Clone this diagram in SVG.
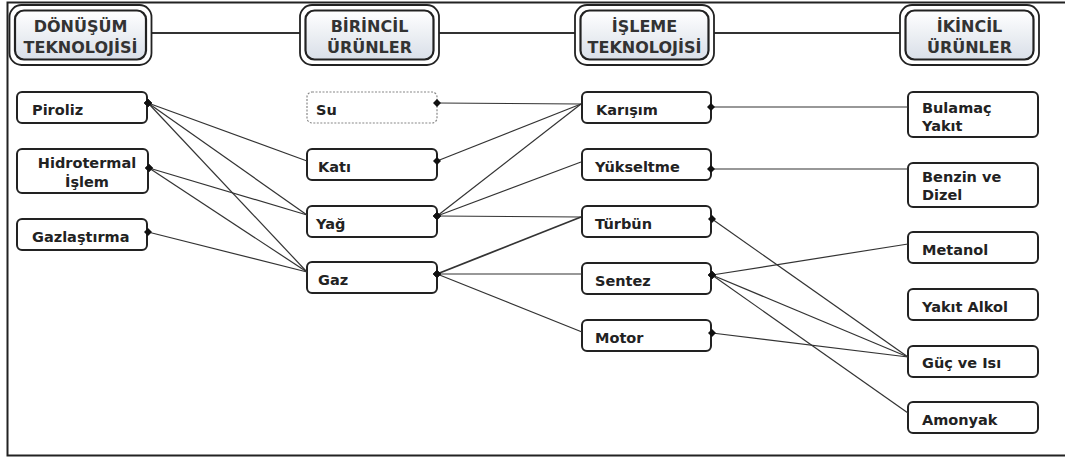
<svg xmlns="http://www.w3.org/2000/svg" width="1065" height="459" viewBox="0 0 1065 459">
<style>
text{font-family:"DejaVu Sans","Liberation Sans",sans-serif;font-weight:bold;fill:#222;font-size:14.5px}
.hd text{fill:#333;font-size:16px;text-anchor:middle}
.ho{fill:#fff;stroke:#222;stroke-width:1.8}
.hi{fill:url(#hg);stroke:#222;stroke-width:2.2}
.n rect{fill:#fff;stroke:#222;stroke-width:2}
.n rect.d{stroke:#888;stroke-width:1.2;stroke-dasharray:2 1.5}
.c path{fill:none;stroke:#333;stroke-width:1.2;marker-start:url(#dm)}
.hl{fill:none;stroke:#333;stroke-width:2}
</style>
<defs>
<linearGradient id="hg" x1="0" y1="0" x2="0" y2="1">
<stop offset="0" stop-color="#ffffff"/>
<stop offset="1" stop-color="#d9dfe8"/>
</linearGradient>
<marker id="dm" viewBox="-5 -5 10 10" markerWidth="10" markerHeight="10" refX="0" refY="0" markerUnits="userSpaceOnUse" orient="0">
<path d="M-4 0L0 -4L4 0L0 4Z" fill="#111"/>
</marker>
</defs>
<rect width="1065" height="459" fill="#fff"/>
<path d="M1070 2.5H7.5V455.5H1070" fill="none" stroke="#222" stroke-width="2"/>

<g id="header-lines">
<path class="hl" d="M150 33H300M438 33H575M714 33H900"/>
</g>

<g class="hd" id="h-donusum">
<rect class="ho" x="9.5" y="5" width="142" height="60" rx="12"/>
<rect class="hi" x="15" y="10.5" width="131" height="49" rx="9"/>
<text x="80.5" y="32">DÖNÜŞÜM</text>
<text x="80.5" y="53">TEKNOLOJİSİ</text>
</g>
<g class="hd" id="h-birincil">
<rect class="ho" x="300" y="5" width="139" height="60" rx="12"/>
<rect class="hi" x="305.5" y="10.5" width="128" height="49" rx="9"/>
<text x="369.5" y="32">BİRİNCİL</text>
<text x="369.5" y="53">ÜRÜNLER</text>
</g>
<g class="hd" id="h-isleme">
<rect class="ho" x="575" y="5" width="139" height="60" rx="12"/>
<rect class="hi" x="580.5" y="10.5" width="128" height="49" rx="9"/>
<text x="644.5" y="32">İŞLEME</text>
<text x="644.5" y="53">TEKNOLOJİSİ</text>
</g>
<g class="hd" id="h-ikincil">
<rect class="ho" x="900" y="5" width="139" height="60" rx="12"/>
<rect class="hi" x="905.5" y="10.5" width="128" height="49" rx="9"/>
<text x="969.5" y="32">İKİNCİL</text>
<text x="969.5" y="53">ÜRÜNLER</text>
</g>

<g class="n" id="piroliz"><rect x="17" y="92" width="130" height="31" rx="5"/><text x="32" y="115">Piroliz</text></g>
<g class="n" id="hidrotermal"><rect x="17" y="149" width="131" height="44" rx="5"/><text x="87" y="168" text-anchor="middle">Hidrotermal</text><text x="87" y="187" text-anchor="middle">İşlem</text></g>
<g class="n" id="gazlastirma"><rect x="17" y="219" width="130" height="31" rx="5"/><text x="32" y="242">Gazlaştırma</text></g>

<g class="n" id="su"><rect class="d" x="307" y="92" width="130" height="31" rx="5"/><text x="316" y="115">Su</text></g>
<g class="n" id="kati"><rect x="307" y="149" width="130" height="31" rx="5"/><text x="318" y="172">Katı</text></g>
<g class="n" id="yag"><rect x="307" y="206" width="130" height="31" rx="5"/><text x="316" y="229">Yağ</text></g>
<g class="n" id="gaz"><rect x="307" y="262" width="130" height="31" rx="5"/><text x="318" y="285">Gaz</text></g>

<g class="n" id="karisim"><rect x="582" y="92" width="129" height="31" rx="5"/><text x="596" y="115">Karışım</text></g>
<g class="n" id="yukseltme"><rect x="582" y="149" width="129" height="31" rx="5"/><text x="595" y="172">Yükseltme</text></g>
<g class="n" id="turbun"><rect x="582" y="206" width="129" height="31" rx="5"/><text x="595" y="229">Türbün</text></g>
<g class="n" id="sentez"><rect x="582" y="263" width="129" height="31" rx="5"/><text x="595" y="286">Sentez</text></g>
<g class="n" id="motor"><rect x="582" y="320" width="129" height="31" rx="5"/><text x="595" y="343">Motor</text></g>

<g class="n" id="bulamac"><rect x="908" y="92" width="130" height="45" rx="5"/><text x="922" y="113">Bulamaç</text><text x="922" y="131">Yakıt</text></g>
<g class="n" id="benzin"><rect x="908" y="163" width="130" height="44" rx="5"/><text x="922" y="182">Benzin ve</text><text x="922" y="200">Dizel</text></g>
<g class="n" id="metanol"><rect x="908" y="232" width="130" height="31" rx="5"/><text x="922" y="255">Metanol</text></g>
<g class="n" id="yakitalkol"><rect x="908" y="289" width="130" height="31" rx="5"/><text x="922" y="312">Yakıt Alkol</text></g>
<g class="n" id="guc"><rect x="908" y="346" width="130" height="31" rx="5"/><text x="922" y="368">Güç ve Isı</text></g>
<g class="n" id="amonyak"><rect x="908" y="402" width="130" height="31" rx="5"/><text x="922" y="425">Amonyak</text></g>

<g class="c" id="connectors">
<path d="M148 103L307 161"/>
<path d="M148 103L307 215"/>
<path d="M148 103L307 272"/>
<path d="M149 168L307 215"/>
<path d="M149 168L307 272"/>
<path d="M148 232L307 272"/>
<path d="M437 103L581 104"/>
<path d="M437 161L581 104"/>
<path d="M437 216L581 104"/>
<path d="M437 216L581 162"/>
<path d="M437 216L581 217"/>
<path d="M437 274L581 217" style="stroke-width:1.8"/>
<path d="M437 274L582 274"/>
<path d="M437 274L582 332"/>
<path d="M711 107L908 107"/>
<path d="M711 169L908 169"/>
<path d="M712 219L908 357"/>
<path d="M712 275L908 244"/>
<path d="M712 275L908 357"/>
<path d="M712 275L908 413"/>
<path d="M712 333L908 357"/>
</g>
</svg>
